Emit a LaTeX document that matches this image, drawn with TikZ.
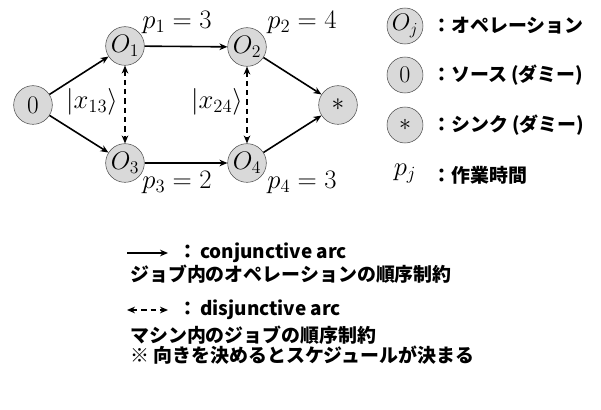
\RequirePackage{fix-cm}
\documentclass[tikz,border=0pt]{standalone}
\usepackage{amsmath}
\usepackage{fontspec}
\newfontfamily\jpfont{Noto Sans CJK JP}
\usetikzlibrary{arrows.meta}
\usetikzlibrary{positioning}

\tikzset{
  opnode/.style={circle, draw=black!70, fill=black!15, minimum size=29pt, inner sep=0pt, font=\fontsize{19}{23}\selectfont},
  keynode/.style={opnode, minimum size=27pt, font=\fontsize{18}{21}\selectfont},
  conj/.style={-{Stealth[length=6pt,width=5pt]}, line width=1.2pt},
  disj/.style={{Stealth[length=6pt,width=5pt]}-{Stealth[length=6pt,width=5pt]}, line width=1.2pt, dash pattern=on 4pt off 3pt},
  plabel/.style={font=\fontsize{20}{24}\selectfont, inner sep=0pt},
  jptext/.style={font=\jpfont\bfseries\fontsize{14.2}{17}\selectfont, anchor=west, inner sep=0pt},
}

\begin{document}
\begin{tikzpicture}[x=0.75pt,y=-0.75pt]
  \useasboundingbox (0,0) rectangle (601,410);

  % graph
  \node[opnode] (src) at (33,105) {$0$};
  \node[opnode] (o1) at (125,46) {$O_1$};
  \node[opnode] (o2) at (247,47) {$O_2$};
  \node[opnode] (o3) at (125,163) {$O_3$};
  \node[opnode] (o4) at (247,163) {$O_4$};
  \node[opnode] (snk) at (338,105) {$*$};

  \draw[conj] (src) -- (o1);
  \draw[conj] (src) -- (o3);
  \draw[conj] (o1) -- (o2);
  \draw[conj] (o3) -- (o4);
  \draw[conj] (o2) -- (snk);
  \draw[conj] (o4) -- (snk);
  \draw[disj] (o1) -- (o3);
  \draw[disj] (o2) -- (o4);

  \node[plabel] (p1) at (177,22) {$p_1 = 3$};
  \node[plabel] (p2) at (302,22) {$p_2 = 4$};
  \node[plabel] (p3) at (177,182) {$p_3 = 2$};
  \node[plabel] (p4) at (302,182) {$p_4 = 3$};
  \node[plabel] (x13) at (92,102) {$|x_{13}\rangle$};
  \node[plabel] (x24) at (217,102) {$|x_{24}\rangle$};

  % legend
  \node[keynode] (kop) at (405,26) {$O_j$};
  \node[keynode] (ksrc) at (405,75) {$0$};
  \node[keynode] (ksnk) at (405,125) {$*$};
  \node[plabel] (kp) at (405,174) {$p_j$};
  \node[jptext] (top) at (432,26) {：オペレーション};
  \node[jptext] (tsrc) at (432,75) {：ソース (ダミー)};
  \node[jptext] (tsnk) at (432,125) {：シンク (ダミー)};
  \node[jptext] (tp) at (432,175) {：作業時間};

  % arcs
  \coordinate (ca) at (127,253);
  \coordinate (cb) at (168,253);
  \draw[conj, line width=1pt] (ca) -- (cb);
  \node[jptext] (tconj) at (178,253) {：\,conjunctive arc};
  \node[jptext] (tconj2) at (130,274) {ジョブ内のオペレーションの順序制約};

  \coordinate (da) at (127,310);
  \coordinate (db) at (168,310);
  \draw[disj, line width=1pt] (da) -- (db);
  \node[jptext] (tdisj) at (178,310) {：\,disjunctive arc};
  \node[jptext] (tdisj2) at (130,335) {マシン内のジョブの順序制約};
  \node[jptext] (tdisj3) at (130,355) {※ 向きを決めるとスケジュールが決まる};
\end{tikzpicture}
\end{document}
